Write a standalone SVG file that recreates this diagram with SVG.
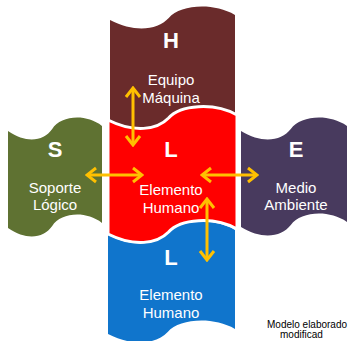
<svg xmlns="http://www.w3.org/2000/svg" width="348" height="341" viewBox="0 0 348 341">
<style>
.lt{font-family:"Liberation Sans",Arial,sans-serif;font-weight:bold;font-size:22px;fill:#fff;text-anchor:middle}
.lb{font-family:"Liberation Sans",Arial,sans-serif;font-size:15px;fill:#fff;text-anchor:middle}
.ft{font-family:"Liberation Sans",Arial,sans-serif;font-size:10px;fill:#000}
.arr{stroke:#FFC000;stroke-width:3;fill:none;marker-start:url(#ah);marker-end:url(#ah)}
</style>
<defs>
<marker id="ah" markerUnits="userSpaceOnUse" viewBox="-12 -10 14 20" markerWidth="14" markerHeight="20" refX="0" refY="0" orient="auto-start-reverse">
<path d="M-9,-7 L0,0 L-9,7" fill="none" stroke="#FFC000" stroke-width="3"/>
</marker>
</defs>
<rect width="348" height="341" fill="#fff"/>
<g id="H">
<path d="M110,20 C135,33 157.5,30 168.75,18 C180,5 212.5,2 235,15 L235,115 C212.5,102 180,105 168.75,118 C157.5,130 135,133 110,120 Z" fill="#6A2B2B"/>
<text class="lt" x="171" y="48">H</text>
<text class="lb" x="171" y="85">Equipo</text>
<text class="lb" x="171" y="103">Máquina</text>
</g>
<g id="S">
<path d="M8,131 C26.8,144 43.7,141 52.2,129 C60.6,116 85.1,113 102,126 L102,223 C85.1,210 60.6,213 52.2,226 C43.7,238 26.8,241 8,228 Z" fill="#5F7232"/>
<text class="lt" x="55" y="157">S</text>
<text class="lb" x="55" y="193">Soporte</text>
<text class="lb" x="55" y="210">Lógico</text>
</g>
<g id="E">
<path d="M241,131 C262.2,144 281.3,141 290.8,129 C300.4,116 327.9,113 347,126 L347,222 C327.9,209 300.4,212 290.8,225 C281.3,237 262.2,240 241,227 Z" fill="#483A5E"/>
<text class="lt" x="296" y="157">E</text>
<text class="lb" x="296" y="193">Medio</text>
<text class="lb" x="296" y="210">Ambiente</text>
</g>
<g id="L2">
<path d="M108,235 C133.4,248 156.3,245 167.7,233 C179.1,220 212.1,217 235,230 L235,329 C212.1,316 179.1,319 167.7,332 C156.3,344 133.4,347 108,334 Z" fill="#1075CC"/>
<text class="lt" x="171" y="265">L</text>
<text class="lb" x="171" y="300">Elemento</text>
<text class="lb" x="171" y="318">Humano</text>
</g>
<g id="L1">
<path d="M108,120 C133.8,133 157,130 168.6,118 C180.2,105 213.8,102 237,115 L237,229 C213.8,216 180.2,219 168.6,232 C157,244 133.8,247 108,234 Z" fill="#FF0000" stroke="#fff" stroke-width="3"/>
<text class="lt" x="171" y="157">L</text>
<text class="lb" x="171" y="195">Elemento</text>
<text class="lb" x="171" y="213">Humano</text>
</g>
<g id="connectors">
<line class="arr" x1="133" y1="88" x2="133" y2="145"/>
<line class="arr" x1="87" y1="175" x2="142" y2="175"/>
<line class="arr" x1="202" y1="175" x2="257" y2="175"/>
<line class="arr" x1="207" y1="199" x2="207" y2="260"/>
</g>
<g id="note">
<text class="ft" x="267" y="328">Modelo elaborado</text>
<text class="ft" x="280" y="338">modificad</text>
</g>
</svg>
